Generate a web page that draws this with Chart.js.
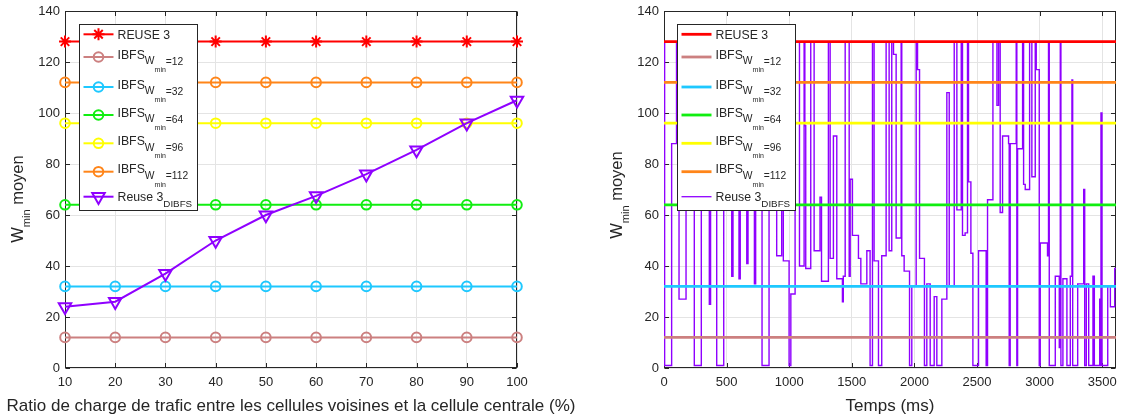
<!DOCTYPE html>
<html>
<head>
<meta charset="utf-8">
<script src="https://cdn.jsdelivr.net/npm/chart.js@4.4.0/dist/chart.umd.min.js"></script>
<style>
html,body{margin:0;padding:0;background:#fff;}
#wrap{position:relative;width:1121px;height:419px;overflow:hidden;}
canvas{position:absolute;top:0;}
#c1{left:0;}
#c2{left:590px;}
</style>
</head>
<body>
<div id="wrap">
<canvas id="c1" width="590" height="419" style="width:590px;height:419px"></canvas>
<canvas id="c2" width="531" height="419" style="width:531px;height:419px"></canvas>
</div>
<script>
// ---------------- DATA ----------------
// Left chart: x = traffic-load ratio (%)
const ratioCategories = [10, 20, 30, 40, 50, 60, 70, 80, 90, 100];
const reuse3Ratio   = [128, 128, 128, 128, 128, 128, 128, 128, 128, 128];
const ibfs12Ratio   = [12, 12, 12, 12, 12, 12, 12, 12, 12, 12];
const ibfs32Ratio   = [32, 32, 32, 32, 32, 32, 32, 32, 32, 32];
const ibfs64Ratio   = [64, 64, 64, 64, 64, 64, 64, 64, 64, 64];
const ibfs96Ratio   = [96, 96, 96, 96, 96, 96, 96, 96, 96, 96];
const ibfs112Ratio  = [112, 112, 112, 112, 112, 112, 112, 112, 112, 112];
const dibfsRatio    = [24, 26, 37, 50, 60, 67.5, 76, 85.5, 96, 105];

// Right chart: x = time (ms)
const timeRange = [0, 3610];
const reuse3Time  = [128, 128];
const ibfs12Time  = [12, 12];
const ibfs32Time  = [32, 32];
const ibfs64Time  = [64, 64];
const ibfs96Time  = [96, 96];
const ibfs112Time = [112, 112];
const dibfsTimeMs = [0,5,61,100,120,176,242,298,362,372,421,477,541,551,599,609,661,671,722,732,783,839,
  900,940,953,999,1013,1047,1082,1119,1125,1132,1172,1199,1246,1258,1313,1327,1353,1380,1425,1432,1447,
  1479,1487,1505,1553,1572,1620,1646,1665,1678,1713,1739,1774,1798,1819,1833,1854,1894,1899,1918,1961,
  1979,2014,2025,2041,2080,2099,2126,2158,2179,2219,2259,2278,2318,2339,2374,2384,2405,2424,2432,2451,
  2467,2512,2573,2584,2627,2659,2672,2685,2704,2752,2757,2765,2813,2818,2824,2864,2872,2885,2920,2938,
  2965,2973,2997,3005,3063,3071,3077,3125,3157,3165,3170,3186,3218,3245,3258,3264,3304,3352,3360,3373,
  3392,3426,3437,3480,3485,3490,3498,3544,3565,3600,3610];
const dibfsTimeVal = [128,1,88,128,27,128,1,128,25,128,1,128,36,128,35,128,41,128,33,128,1,128,
  44,90,42,1,29,128,40,128,95,39,128,46,67,34,128,43,91,35,26,36,128,
  36,74,52,43,33,46,1,128,42,1,44,128,46,128,123,51,128,44,38,1,
  32,128,117,43,1,33,1,28,1,27,108,32,128,62,128,52,53,128,73,45,
  1,46,1,66,128,103,128,61,91,88,1,88,128,1,86,128,72,70,128,75,
  128,117,1,49,44,128,1,36,8,128,1,35,1,36,113,1,33,70,1,33,
  1,36,1,27,1,100,1,32,24,39,39];

// Tick labels
const yTicks = [0, 20, 40, 60, 80, 100, 120, 140];
const ratioTicks = [10, 20, 30, 40, 50, 60, 70, 80, 90, 100];
const timeTicks = [0, 500, 1000, 1500, 2000, 2500, 3000, 3500];

// Labels
const seriesNames = ['REUSE 3', 'IBFS', 'Reuse 3'];
const ibfsLevels = ['=12', '=32', '=64', '=96', '=112'];
const xTitleLeft = 'Ratio de charge de trafic entre les cellules voisines et la cellule centrale (%)';
const xTitleRight = 'Temps (ms)';

// ---------------- STYLE ----------------
const FONT = '"Liberation Sans", Arial, Helvetica, sans-serif';
const TXT = '#262626';
const GRID = '#e4e4e4';
const COLORS = {
  red: '#ff0000', rose: '#cc8080', cyan: '#1ec8ff', green: '#11ee11',
  yellow: '#ffff00', orange: '#ff8519', purple: '#8f00ff'
};

function pts(xs, ys) { return xs.map((x, i) => ({x: x, y: ys[i]})); }

function drawMarker(ctx, style, x, y, r, color, lw) {
  ctx.save();
  ctx.strokeStyle = color; ctx.lineWidth = lw;
  ctx.beginPath();
  if (style === 'circle') {
    ctx.arc(x, y, r, 0, Math.PI * 2);
  } else if (style === 'star') {
    for (let a = 0; a < 4; a++) {
      const ang = a * Math.PI / 4;
      ctx.moveTo(x + Math.cos(ang) * r, y + Math.sin(ang) * r);
      ctx.lineTo(x - Math.cos(ang) * r, y - Math.sin(ang) * r);
    }
  } else if (style === 'tridown') {
    const s = Math.sqrt(3) / 2;
    ctx.moveTo(x, y + r);
    ctx.lineTo(x - s * r, y - r / 2);
    ctx.lineTo(x + s * r, y - r / 2);
    ctx.closePath();
  }
  ctx.stroke();
  ctx.restore();
}

function drawRich(ctx, parts, x, y) {
  let cx = x;
  parts.forEach(p => {
    ctx.font = p.s + 'px ' + FONT;
    ctx.fillText(p.t, cx, y + p.dy);
    cx += ctx.measureText(p.t).width;
  });
}

function legendRows() {
  const rows = [
    {y: 34.3, color: COLORS.red, marker: 'star', parts: [{t: seriesNames[0], s: 12.3, dy: 5}]},
  ];
  const cols = [COLORS.rose, COLORS.cyan, COLORS.green, COLORS.yellow, COLORS.orange];
  const ys = [57, 87, 115, 143.3, 171.7];
  ibfsLevels.forEach((lv, i) => {
    rows.push({y: ys[i], color: cols[i], marker: 'circle', parts: [
      {t: seriesNames[1], s: 12.3, dy: 1.7}, {t: 'W', s: 10.3, dy: 7.3},
      {t: 'min', s: 7, dy: 15}, {t: lv, s: 10.3, dy: 7.6}]});
  });
  rows.push({y: 196.7, color: COLORS.purple, marker: 'tridown', parts: [
    {t: seriesNames[2], s: 12.3, dy: 4.3}, {t: 'DIBFS', s: 9.8, dy: 10}]});
  return rows;
}

function framePlugin(cfg) {
  return {
    id: 'frame_' + cfg.id,
    beforeDatasetsDraw(chart) {
      const ctx = chart.ctx, a = chart.chartArea;
      const xs = chart.scales.x, ys = chart.scales.y;
      ctx.save();
      ctx.strokeStyle = TXT; ctx.lineWidth = 1;
      const L = Math.round(a.left) + 0.5, R = Math.round(a.right) - 0.5;
      const T = Math.round(a.top) + 0.5, B = Math.round(a.bottom) - 0.5;
      ctx.strokeRect(L, T, R - L, B - T);
      ctx.beginPath();
      cfg.xTicks.forEach(v => {
        const px = Math.round(xs.getPixelForValue(v)) + 0.5;
        ctx.moveTo(px, B); ctx.lineTo(px, B - 4.5);
        ctx.moveTo(px, T); ctx.lineTo(px, T + 4.5);
      });
      yTicks.forEach(v => {
        const py = Math.round(ys.getPixelForValue(v)) + 0.5;
        ctx.moveTo(L, py); ctx.lineTo(L + 4.5, py);
        ctx.moveTo(R, py); ctx.lineTo(R - 4.5, py);
      });
      ctx.stroke();
      ctx.restore();
    },
    afterDatasetsDraw(chart) {
      const ctx = chart.ctx, a = chart.chartArea;
      ctx.save();
      // legend
      const bx = cfg.legendX, by = 24, bw = 118, bh = 186;
      ctx.fillStyle = '#fff';
      ctx.fillRect(bx, by, bw, bh);
      ctx.strokeStyle = TXT; ctx.lineWidth = 1;
      ctx.strokeRect(bx + 0.5, by + 0.5, bw, bh);
      legendRows().forEach(r => {
        const isPurple = r.color === COLORS.purple;
        ctx.strokeStyle = r.color;
        ctx.lineWidth = cfg.markers ? 2 : (isPurple ? 1.3 : 2.8);
        ctx.beginPath(); ctx.moveTo(bx + 4.5, r.y); ctx.lineTo(bx + 34.5, r.y); ctx.stroke();
        if (cfg.markers) {
          const rad = r.marker === 'star' ? 6 : (r.marker === 'circle' ? 4.8 : 7.2);
          drawMarker(ctx, r.marker, bx + 19.5, r.y, rad, r.color, 2);
        }
        ctx.fillStyle = TXT; ctx.textBaseline = 'alphabetic'; ctx.textAlign = 'left';
        drawRich(ctx, r.parts, bx + 38.5, r.y);
      });
      // x title
      ctx.fillStyle = TXT; ctx.textAlign = 'center'; ctx.textBaseline = 'alphabetic';
      ctx.font = '17px ' + FONT;
      ctx.fillText(cfg.xTitle, (a.left + a.right) / 2, 410.5);
      // y title with subscript
      const parts = [{t: 'W', s: 16.5, dy: 0}, {t: 'min', s: 11, dy: 7}, {t: ' moyen', s: 16.5, dy: 0}];
      let total = 0;
      parts.forEach(p => { ctx.font = p.s + 'px ' + FONT; total += ctx.measureText(p.t).width; });
      ctx.translate(a.left - 42, cfg.yTitleCenter + total / 2);
      ctx.rotate(-Math.PI / 2);
      ctx.textAlign = 'left';
      drawRich(ctx, parts, 0, 0);
      ctx.restore();
    }
  };
}

function scaleOpts(min, max, ticksArr, isX, fitSize) {
  return {
    type: 'linear', min: min, max: max,
    afterBuildTicks: s => { s.ticks = ticksArr.map(v => ({value: v})); },
    ticks: {
      callback: v => String(v), color: TXT, font: {family: FONT, size: 13},
      padding: isX ? 7 : 5, maxRotation: 0, autoSkip: false, includeBounds: false
    },
    grid: {color: GRID, lineWidth: 1, drawTicks: false},
    border: {display: false},
    afterFit: s => {
      if (isX) { s.height = fitSize; s.paddingLeft = 0; s.paddingRight = 0; }
      else { s.width = fitSize; s.paddingTop = 0; s.paddingBottom = 0; }
    }
  };
}

const baseOpts = {
  responsive: false, animation: false, events: [],
  plugins: {legend: {display: false}, tooltip: {enabled: false}},
};

// ---------------- LEFT CHART ----------------
function lineDs(label, ys, color, style, radius, order) {
  return {
    label: label, data: pts(ratioCategories, ys), borderColor: color, borderWidth: 2,
    pointStyle: style === 'tridown' ? 'triangle' : style, pointRotation: style === 'tridown' ? 180 : 0,
    pointRadius: radius, pointBorderWidth: 2, pointBorderColor: color,
    pointBackgroundColor: 'rgba(0,0,0,0)', clip: false, order: order, tension: 0
  };
}

new Chart(document.getElementById('c1'), {
  type: 'line',
  data: {datasets: [
    lineDs('Reuse 3 DIBFS', dibfsRatio, COLORS.purple, 'tridown', 7.2, 0),
    lineDs('REUSE 3', reuse3Ratio, COLORS.red, 'star', 6, 1),
    lineDs('IBFS Wmin=12', ibfs12Ratio, COLORS.rose, 'circle', 4.8, 1),
    lineDs('IBFS Wmin=32', ibfs32Ratio, COLORS.cyan, 'circle', 4.8, 1),
    lineDs('IBFS Wmin=64', ibfs64Ratio, COLORS.green, 'circle', 4.8, 1),
    lineDs('IBFS Wmin=96', ibfs96Ratio, COLORS.yellow, 'circle', 4.8, 1),
    lineDs('IBFS Wmin=112', ibfs112Ratio, COLORS.orange, 'circle', 4.8, 1),
  ]},
  options: Object.assign({}, baseOpts, {
    layout: {padding: {left: 0, right: 73, top: 11, bottom: 0}},
    scales: {
      x: scaleOpts(10, 100, ratioTicks, true, 51),
      y: scaleOpts(0, 140, yTicks, false, 65)
    }
  }),
  plugins: [framePlugin({id: 'L', xTicks: ratioTicks, legendX: 79, markers: true, xTitle: xTitleLeft, yTitleCenter: 199})]
});

// ---------------- RIGHT CHART ----------------
function flatDs(label, ys, color) {
  return {label: label, data: pts(timeRange, ys), borderColor: color, borderWidth: 2.8,
    pointRadius: 0, order: 0};
}

new Chart(document.getElementById('c2'), {
  type: 'line',
  data: {datasets: [
    flatDs('REUSE 3', reuse3Time, COLORS.red),
    flatDs('IBFS Wmin=12', ibfs12Time, COLORS.rose),
    flatDs('IBFS Wmin=32', ibfs32Time, COLORS.cyan),
    flatDs('IBFS Wmin=64', ibfs64Time, COLORS.green),
    flatDs('IBFS Wmin=96', ibfs96Time, COLORS.yellow),
    flatDs('IBFS Wmin=112', ibfs112Time, COLORS.orange),
    {label: 'Reuse 3 DIBFS', data: pts(dibfsTimeMs, dibfsTimeVal), borderColor: COLORS.purple,
     borderWidth: 1.4, pointRadius: 0, stepped: 'before', order: 1}
  ]},
  options: Object.assign({}, baseOpts, {
    layout: {padding: {left: 0, right: 5, top: 11, bottom: 0}},
    scales: {
      x: scaleOpts(timeRange[0], timeRange[1], timeTicks, true, 51),
      y: scaleOpts(0, 140, yTicks, false, 74)
    }
  }),
  plugins: [framePlugin({id: 'R', xTicks: timeTicks, legendX: 87, markers: false, xTitle: xTitleRight, yTitleCenter: 195})]
});
</script>
</body>
</html>
